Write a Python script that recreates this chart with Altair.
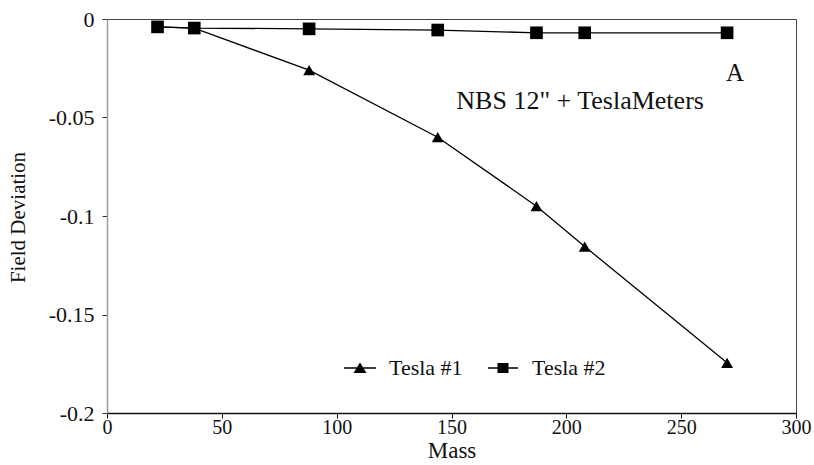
import altair as alt
import pandas as pd

# ---- data ----
series_names = ["Tesla #1", "Tesla #2"]
mass = [22, 38, 88, 144, 187, 208, 270]
tesla1 = [-0.004, -0.0046, -0.026, -0.060, -0.095, -0.1155, -0.1745]
tesla2 = [-0.004, -0.0046, -0.005, -0.0056, -0.007, -0.007, -0.007]

x_ticks = [0, 50, 100, 150, 200, 250, 300]
y_ticks = [0, -0.05, -0.1, -0.15, -0.2]

notes_text = ["A", "NBS 12\" + TeslaMeters"]
notes_x = [273.5, 206]
notes_y = [-0.0275, -0.0415]
notes_size = [25, 26]

FONT = "Liberation Serif"

rows = []
for m, v in zip(mass, tesla1):
    rows.append({"Mass": m, "Dev": v, "series": series_names[0]})
for m, v in zip(mass, tesla2):
    rows.append({"Mass": m, "Dev": v, "series": series_names[1]})
df = pd.DataFrame(rows)
notes = pd.DataFrame({"t": notes_text, "x": notes_x, "y": notes_y, "s": notes_size})

x_enc = alt.X("Mass:Q", title="Mass",
              scale=alt.Scale(domain=[0, 300], nice=False, zero=False),
              axis=alt.Axis(values=x_ticks, grid=False, domainColor="#111", domainWidth=1.4,
                            tickColor="#111", tickSize=5, labelPadding=-1,
                            titleX=344.5, titleY=44, titleAlign="center", titleBaseline="alphabetic",
                            labelFont=FONT, labelFontSize=20, labelColor="#111",
                            titleFont=FONT, titleFontSize=23, titleFontWeight="normal",
                            titleColor="#111", labelFlush=False))
y_enc = alt.Y("Dev:Q", title="Field Deviation",
              scale=alt.Scale(domain=[-0.2, 0], nice=False, zero=False),
              axis=alt.Axis(values=y_ticks, grid=False, domainColor="#999", domainWidth=1.4,
                            tickColor="#333", tickSize=5, labelPadding=8,
                            titleX=-89, titleY=198, titleAlign="center", titleBaseline="middle",
                            labelExpr="datum.value == 0 ? '0' : '-' + format(abs(datum.value), '')",
                            labelFont=FONT, labelFontSize=22, labelColor="#111",
                            titleFont=FONT, titleFontSize=21, titleFontWeight="normal",
                            titleColor="#111", labelFlush=False))

base = alt.Chart(df)

lines = base.mark_line(color="black", strokeWidth=1.3).encode(
    x=x_enc, y=y_enc, detail="series:N")

tri_points = base.transform_filter(alt.datum.series == series_names[0]).mark_point(
    filled=True, color="black", opacity=1, size=140, shape="triangle-up").encode(
    x="Mass:Q", y="Dev:Q")
sq_points = base.transform_filter(alt.datum.series == series_names[1]).mark_point(
    filled=True, color="black", opacity=1, size=160, shape="square").encode(
    x="Mass:Q", y="Dev:Q")

# legend glyphs: a thin bar (the line) plus the marker
tri_path = "M-1.6,-0.065H1.6V0.065H-1.6Z M-0.65,0.5L0,-0.55L0.65,0.5Z"
sq_path = "M-1.5,-0.065H1.5V0.065H-1.5Z M-0.55,-0.5H0.55V0.5H-0.55Z"

legend_layer = base.mark_point(filled=True, color="black", opacity=0, size=400).encode(
    x="Mass:Q", y="Dev:Q",
    shape=alt.Shape("series:N", scale=alt.Scale(domain=series_names, range=[tri_path, sq_path]),
                    legend=alt.Legend(title=None, orient="none", direction="horizontal",
                                      legendX=242, legendY=338, padding=0,
                                      symbolOpacity=1, symbolFillColor="black",
                                      symbolSize=400, labelFont=FONT, labelFontSize=22,
                                      labelColor="#111", labelOffset=18, columnPadding=22,
                                      labelLimit=200)))

texts = alt.Chart(notes).mark_text(font=FONT, color="#111", align="center", baseline="middle").encode(
    x="x:Q", y="y:Q", text="t:N", size=alt.Size("s:Q", scale=None, legend=None))

chart = alt.layer(lines, tri_points, sq_points, legend_layer, texts).properties(
    width=689, height=394,
    autosize=alt.AutoSizeParams(type="none"),
    padding={"left": 107, "top": 19, "right": 18, "bottom": 52},
    background="white",
).configure_view(stroke="#444", strokeWidth=1)

chart.save("out.html", embed_options={"renderer": "svg", "actions": False})
